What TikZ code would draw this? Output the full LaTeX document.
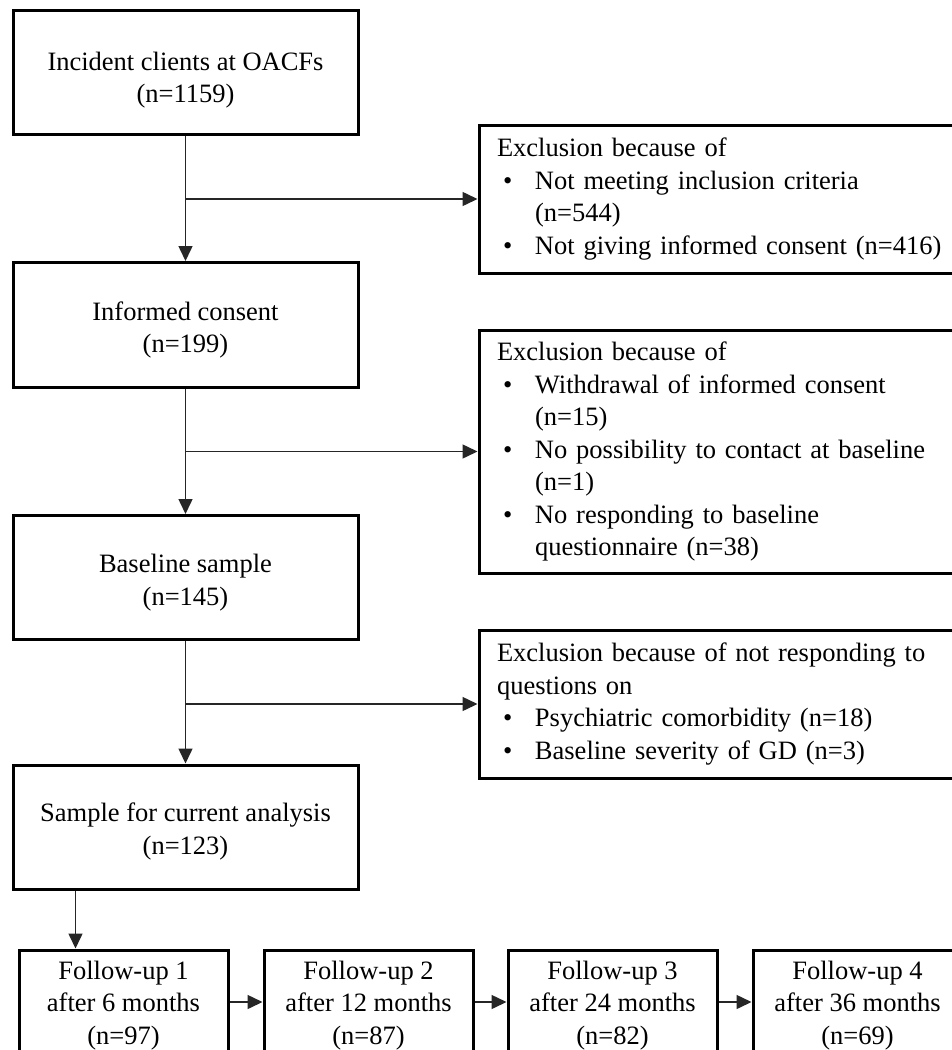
\documentclass[tikz,border=0pt]{standalone}
\usepackage{fontspec}
\setmainfont{Liberation Serif}
\usetikzlibrary{arrows.meta}
\newcommand\exbullet{\makebox[38pt][l]{\hspace{6pt}•}}
\newcommand\exindent{\hspace*{38pt}}
\begin{document}
\begin{tikzpicture}[x=1pt,y=-1pt,
  every node/.style={font=\fontsize{26.5}{32.5}\selectfont},
  box/.style={draw=black, line width=3pt, inner sep=0pt},
  txt/.style={align=center, inner sep=0pt},
  mainbox/.style={box, minimum width=345pt, minimum height=124pt},
  exbox/.style={draw=black, line width=3pt, inner xsep=18pt, inner ysep=0pt, text width=455pt, align=left},
  fubox/.style={box, minimum width=209pt, minimum height=104pt},
  arr/.style={line width=1.5pt, draw=black!85, -{Triangle[length=15pt,width=14pt]}}]
\useasboundingbox (0,0) rectangle (952,1050);
\clip (0,0) rectangle (952,1050);
\fill[white] (0,0) rectangle (952,1050);

% main column
\node[mainbox] (b1) at (185.5,72) {};
\node[mainbox, minimum height=125pt] (b2) at (185.5,325) {};
\node[mainbox] (b3) at (185.5,577.5) {};
\node[mainbox] (b4) at (185.5,827) {};
\node[txt] (t1) at (b1.center) [yshift=-8pt] {Incident clients at OACFs\\(n=1159)};
\node[txt] (t2) at (b2.center) [yshift=-5pt] {Informed consent\\(n=199)};
\node[txt] (t3) at (b3.center) [yshift=-5pt] {Baseline sample\\(n=145)};
\node[txt] (t4) at (b4.center) [yshift=-4.5pt] {Sample for current analysis\\(n=123)};

% exclusion boxes
\node[exbox, minimum height=148pt] (e1) at (724.5,199) {Exclusion because of\\
\exbullet Not meeting inclusion criteria\\
\exindent(n=544)\\
\exbullet Not giving informed consent (n=416)};
\node[exbox, minimum height=243pt] (e2) at (724.5,451.5) {Exclusion because of\\
\exbullet Withdrawal of informed consent\\
\exindent(n=15)\\
\exbullet No possibility to contact at baseline\\
\exindent(n=1)\\
\exbullet No responding to baseline\\
\exindent questionnaire (n=38)};
\node[exbox, minimum height=148pt] (e3) at (724.5,704) {Exclusion because of not responding to\\
questions on\\
\exbullet Psychiatric comorbidity (n=18)\\
\exbullet Baseline severity of GD (n=3)};

% follow-up boxes
\node[fubox] (f1) at (123.5,1002) {};
\node[fubox] (f2) at (368.5,1002) {};
\node[fubox] (f3) at (612.5,1002) {};
\node[fubox] (f4) at (857.5,1002) {};
\node[txt] (g1) at (f1.center) [yshift=-3.5pt] {Follow-up 1\\after 6 months\\(n=97)};
\node[txt] (g2) at (f2.center) [yshift=-3.5pt] {Follow-up 2\\after 12 months\\(n=87)};
\node[txt] (g3) at (f3.center) [yshift=-3.5pt] {Follow-up 3\\after 24 months\\(n=82)};
\node[txt] (g4) at (f4.center) [yshift=-3.5pt] {Follow-up 4\\after 36 months\\(n=69)};

% connectors
\coordinate (j1) at (b1.south |- e1.west);
\coordinate (j2) at (b2.south |- e2.west);
\coordinate (j3) at (b3.south |- e3.west);
\draw[arr] (b1.south) -- (b2.north);
\draw[arr] (j1) -- (e1.west);
\draw[arr] (b2.south) -- (b3.north);
\draw[arr] (j2) -- (e2.west);
\draw[arr] (b3.south) -- (b4.north);
\draw[arr] (j3) -- (e3.west);
\coordinate (c4) at ([xshift=64pt]b4.south west);
\draw[arr] (c4) -- (c4 |- f1.north);
\draw[arr] (f1.east) -- (f2.west);
\draw[arr] (f2.east) -- (f3.west);
\draw[arr] (f3.east) -- (f4.west);
\end{tikzpicture}
\end{document}
